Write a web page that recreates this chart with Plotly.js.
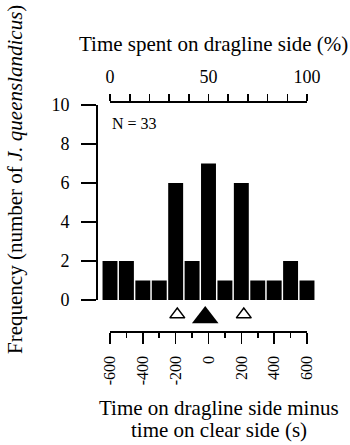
<!DOCTYPE html>
<html>
<head>
<meta charset="utf-8">
<script src="https://cdn.plot.ly/plotly-3.0.1.min.js"></script>
<style>
  html, body { margin: 0; padding: 0; background: #fff; }
  #chart { width: 350px; height: 445px; }
</style>
</head>
<body>
<div id="chart"></div>
<script>
// ---- data ----
const binCentres = [-600, -500, -400, -300, -200, -100, 0, 100, 200, 300, 400, 500, 600];
const frequency  = [2, 2, 1, 1, 6, 2, 7, 1, 6, 1, 1, 2, 1];
const quartileTimes = [-190, 215];   // open triangles
const medianTime    = [-20];         // filled triangle
const bottomTickVals = [-600, -400, -200, 0, 200, 400, 600];
const bottomTickText = ['-600', '-400', '-200', '0', '200', '400', '600'];
const bottomMinorVals = [-500, -300, -100, 100, 300, 500];
const leftTickVals = [0, 2, 4, 6, 8, 10];
const topTickVals = [0, 10, 20, 30, 40, 50, 60, 70, 80, 90, 100];
const topTickText = ['0', '', '', '', '', '50', '', '', '', '', '100'];
const sampleSize = 33;

// ---- layout helpers (pixel -> paper) ----
const W = 350, H = 445;
const px = v => v / W;
const py = v => (H - v) / H;
const FONT = 'Liberation Serif, Times New Roman, serif';

// horizontal geometry: -600 s sits at 110 px, +600 s at 307 px
const AX_L = 110, AX_R = 307;
const SCALE = (AX_R - AX_L) / 1200;          // px per second
const BAR_L = 96, BAR_R = 324;               // wider domain so edge bars are not clipped
const barRange = [-600 - (AX_L - BAR_L) / SCALE, 600 + (BAR_R - AX_R) / SCALE];

const traces = [
  {
    type: 'bar', x: binCentres, y: frequency, width: 91,
    marker: { color: '#000', line: { width: 0 } },
    hoverinfo: 'skip', showlegend: false,
    xaxis: 'x', yaxis: 'y'
  },
  {
    type: 'scatter', mode: 'markers', x: quartileTimes, y: quartileTimes.map(() => 0.55),
    marker: { symbol: 'triangle-up-open', size: 13, color: '#000', line: { width: 1.5, color: '#000' } },
    cliponaxis: false, hoverinfo: 'skip', showlegend: false, xaxis: 'x', yaxis: 'y2'
  },
  {
    type: 'scatter', mode: 'markers', x: medianTime, y: medianTime.map(() => 0.45),
    marker: { symbol: 'triangle-up', size: 23, color: '#000', line: { width: 0 } },
    cliponaxis: false, hoverinfo: 'skip', showlegend: false, xaxis: 'x', yaxis: 'y2'
  },
  {
    type: 'scatter', mode: 'markers', x: [0, 100], y: [0, 0],
    marker: { size: 0, opacity: 0 }, hoverinfo: 'skip', showlegend: false,
    xaxis: 'x2', yaxis: 'y'
  },
  {
    type: 'scatter', mode: 'markers', x: [-600, 600], y: [0, 0],
    marker: { size: 0, opacity: 0 }, hoverinfo: 'skip', showlegend: false,
    xaxis: 'x3', yaxis: 'y'
  }
];

const layout = {
  width: W, height: H,
  margin: { l: 0, r: 0, t: 0, b: 0, pad: 0 },
  paper_bgcolor: '#fff', plot_bgcolor: 'rgba(0,0,0,0)',
  showlegend: false,
  font: { family: FONT, color: '#000', size: 18 },
  // bar axis (hidden)
  xaxis: {
    domain: [px(BAR_L), px(BAR_R)], range: barRange, anchor: 'y',
    visible: false, showgrid: false, zeroline: false, fixedrange: true
  },
  // top axis: time spent on dragline side (%)
  xaxis2: {
    domain: [px(AX_L), px(AX_R)], range: [0, 100],
    anchor: 'free', position: py(101.5), side: 'top',
    showline: true, linecolor: '#000', linewidth: 2,
    ticks: 'outside', ticklen: 7, tickwidth: 1.6, tickcolor: '#000',
    tickvals: topTickVals, ticktext: topTickText,
    tickangle: 0, tickfont: { family: FONT, size: 18, color: '#000' },
    ticklabelstandoff: 3,
    showgrid: false, zeroline: false, fixedrange: true
  },
  // bottom axis: difference in seconds
  xaxis3: {
    domain: [px(AX_L), px(AX_R)], range: [-600, 600],
    anchor: 'free', position: py(331.5), side: 'bottom',
    showline: true, linecolor: '#000', linewidth: 2,
    ticks: 'outside', ticklen: 11, tickwidth: 1.6, tickcolor: '#000',
    tickvals: bottomTickVals, ticktext: bottomTickText,
    tickangle: -90, tickfont: { family: FONT, size: 16, color: '#000' },
    ticklabelstandoff: 6,
    minor: { tickvals: bottomMinorVals, ticks: 'outside', ticklen: 5, tickwidth: 1.6, tickcolor: '#000', showgrid: false },
    showgrid: false, zeroline: false, fixedrange: true
  },
  yaxis: {
    domain: [py(300), py(105)], range: [0, 10],
    anchor: 'free', position: px(97),
    showline: true, linecolor: '#000', linewidth: 2,
    ticks: 'outside', ticklen: 15, tickwidth: 1.6, tickcolor: '#000',
    tickvals: leftTickVals, tickfont: { family: FONT, size: 18, color: '#000' },
    ticklabelstandoff: 8,
    showgrid: false, zeroline: false, fixedrange: true
  },
  // strip for the triangle markers
  yaxis2: {
    domain: [py(330), py(302)], range: [0, 1], anchor: 'x',
    visible: false, showgrid: false, zeroline: false, fixedrange: true
  },
  annotations: [
    { xref: 'paper', yref: 'paper', x: px(213.5), y: py(44), xanchor: 'center', yanchor: 'middle',
      text: 'Time spent on dragline side (%)', showarrow: false, font: { family: FONT, size: 21, color: '#000' } },
    { xref: 'paper', yref: 'paper', x: px(15), y: py(180), xanchor: 'center', yanchor: 'middle', textangle: -90,
      text: 'Frequency (number of <i>J. queenslandicus</i>)', showarrow: false, font: { family: FONT, size: 21, color: '#000' } },
    { xref: 'paper', yref: 'paper', x: px(219), y: py(408), xanchor: 'center', yanchor: 'middle',
      text: 'Time on dragline side minus', showarrow: false, font: { family: FONT, size: 21, color: '#000' } },
    { xref: 'paper', yref: 'paper', x: px(219), y: py(430), xanchor: 'center', yanchor: 'middle',
      text: 'time on clear side (s)', showarrow: false, font: { family: FONT, size: 21, color: '#000' } },
    { xref: 'paper', yref: 'paper', x: px(110), y: py(123), xanchor: 'left', yanchor: 'middle',
      text: 'N = ' + sampleSize, showarrow: false, font: { family: FONT, size: 16, color: '#000' } }
  ]
};

Plotly.newPlot('chart', traces, layout, { staticPlot: true, displayModeBar: false });
</script>
</body>
</html>
